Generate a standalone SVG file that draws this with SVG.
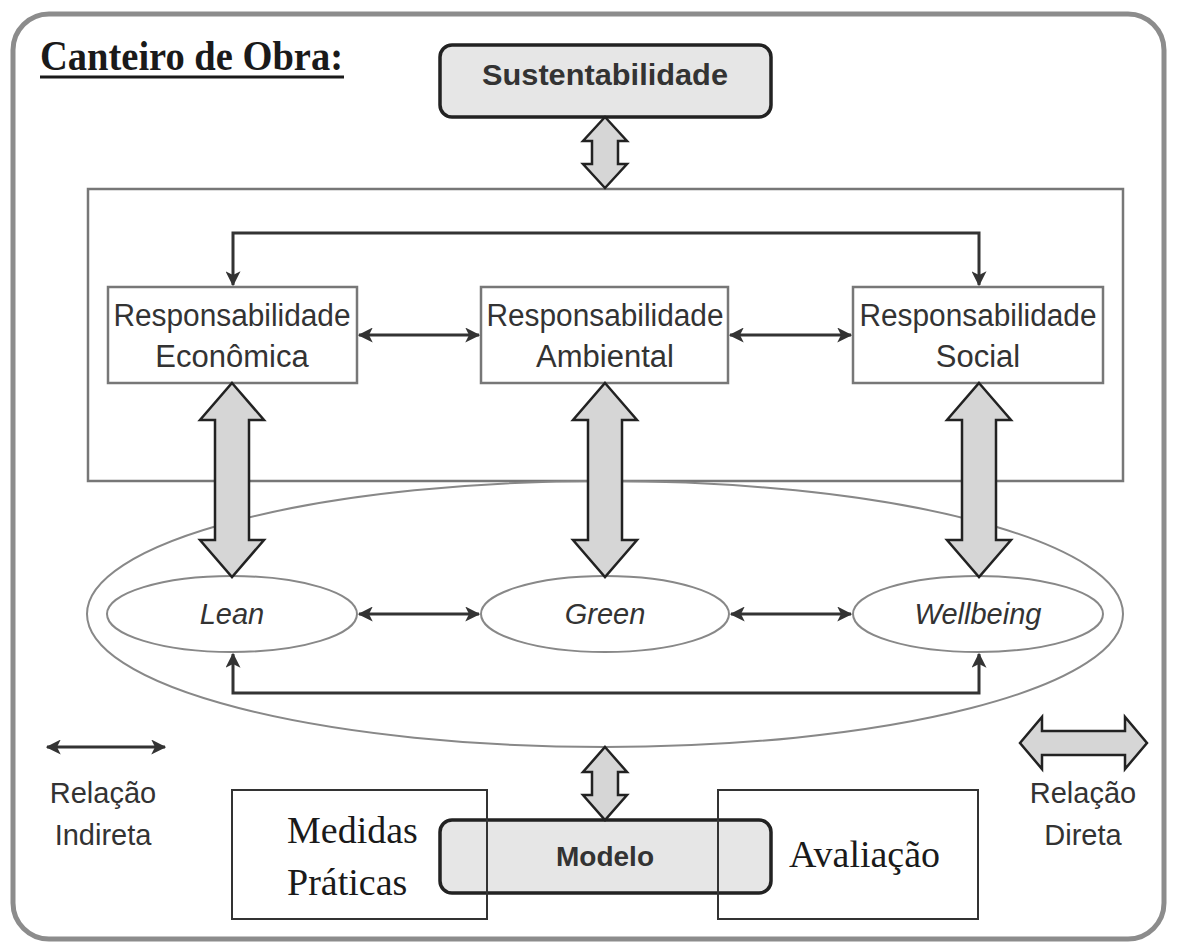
<svg xmlns="http://www.w3.org/2000/svg" width="1177" height="945" viewBox="0 0 1177 945">
<style>
  .sans { font-family: "Liberation Sans", Arial, sans-serif; fill: #333; }
  .serif { font-family: "Liberation Serif", "Times New Roman", serif; fill: #1a1a1a; }
  .box { fill: #fff; stroke: #777; stroke-width: 2.5; }
  .rbox { fill: #e6e6e6; stroke: #222; stroke-width: 3.5; }
  .block { fill: #d6d6d6; stroke: #222; stroke-width: 2.5; stroke-linejoin: miter; }
  .thin { fill: none; stroke: #333; stroke-width: 3; }
  .ell { fill: #fff; stroke: #888; stroke-width: 2; }
  .plain { fill: none; stroke: #333; stroke-width: 2; }
</style>
<defs>
  <marker id="ah" viewBox="0 0 12 12" refX="11" refY="6" markerWidth="5" markerHeight="5" orient="auto-start-reverse" markerUnits="strokeWidth">
    <path d="M0,0 L12,6 L0,12 L3,6 Z" fill="#333"/>
  </marker>
</defs>
<rect width="1177" height="945" fill="#fff"/>

<!-- outer frame -->
<rect id="frame" x="13" y="14" width="1151" height="925" rx="36" fill="none" stroke="#8c8c8c" stroke-width="5"/>

<g id="title">
  <text class="serif" x="40" y="70" font-size="42" font-weight="bold" textLength="303" lengthAdjust="spacingAndGlyphs">Canteiro de Obra:</text>
  <line x1="40" y1="77" x2="344" y2="77" stroke="#1a1a1a" stroke-width="3"/>
</g>

<g id="sustentabilidade">
  <rect class="rbox" x="440" y="45" width="331" height="72" rx="12"/>
  <text class="sans" x="605" y="85" font-size="30" font-weight="bold" text-anchor="middle" textLength="246" lengthAdjust="spacingAndGlyphs">Sustentabilidade</text>
</g>

<!-- inner rectangle and big ellipse -->
<rect id="responsabilidades" class="box" x="88" y="189" width="1035" height="292" fill="none"/>
<ellipse id="metodos" cx="605" cy="614" rx="518" ry="133" fill="none" stroke="#888" stroke-width="2"/>

<g id="resp-economica">
  <rect class="box" x="108" y="287" width="249" height="96"/>
  <text class="sans" x="232" y="326" font-size="31" text-anchor="middle" textLength="237" lengthAdjust="spacingAndGlyphs">Responsabilidade</text>
  <text class="sans" x="232" y="367" font-size="31" text-anchor="middle">Econômica</text>
</g>
<g id="resp-ambiental">
  <rect class="box" x="481" y="287" width="247" height="96"/>
  <text class="sans" x="605" y="326" font-size="31" text-anchor="middle" textLength="237" lengthAdjust="spacingAndGlyphs">Responsabilidade</text>
  <text class="sans" x="605" y="367" font-size="31" text-anchor="middle">Ambiental</text>
</g>
<g id="resp-social">
  <rect class="box" x="853" y="287" width="250" height="96"/>
  <text class="sans" x="978" y="326" font-size="31" text-anchor="middle" textLength="237" lengthAdjust="spacingAndGlyphs">Responsabilidade</text>
  <text class="sans" x="978" y="367" font-size="31" text-anchor="middle">Social</text>
</g>

<g id="lean">
  <ellipse class="ell" cx="232" cy="614" rx="125" ry="38"/>
  <text class="sans" x="232" y="624" font-size="29" font-style="italic" text-anchor="middle">Lean</text>
</g>
<g id="green">
  <ellipse class="ell" cx="605" cy="614" rx="124" ry="38"/>
  <text class="sans" x="605" y="624" font-size="29" font-style="italic" text-anchor="middle">Green</text>
</g>
<g id="wellbeing">
  <ellipse class="ell" cx="978" cy="614" rx="125" ry="38"/>
  <text class="sans" x="978" y="624" font-size="29" font-style="italic" text-anchor="middle">Wellbeing</text>
</g>

<g id="modelo">
  <rect class="rbox" x="440" y="820" width="331" height="73" rx="12"/>
  <text class="sans" x="605" y="866" font-size="28" font-weight="bold" text-anchor="middle">Modelo</text>
</g>
<g id="medidas">
  <rect class="plain" x="232" y="790" width="255" height="129"/>
  <text class="serif" x="287" y="843" font-size="38">Medidas</text>
  <text class="serif" x="287" y="895" font-size="38">Práticas</text>
</g>
<g id="avaliacao">
  <rect class="plain" x="718" y="790" width="260" height="129"/>
  <text class="serif" x="789" y="867" font-size="38" textLength="151" lengthAdjust="spacingAndGlyphs">Avaliação</text>
</g>

<g id="connectors">
  <!-- top loop -->
  <path class="thin" d="M233,285 L233,233 L979,233 L979,285" marker-start="url(#ah)" marker-end="url(#ah)"/>
  <line class="thin" x1="359" y1="335" x2="479" y2="335" marker-start="url(#ah)" marker-end="url(#ah)"/>
  <line class="thin" x1="730" y1="335" x2="851" y2="335" marker-start="url(#ah)" marker-end="url(#ah)"/>
  <!-- method arrows -->
  <line class="thin" x1="359" y1="614" x2="479" y2="614" marker-start="url(#ah)" marker-end="url(#ah)"/>
  <line class="thin" x1="731" y1="614" x2="851" y2="614" marker-start="url(#ah)" marker-end="url(#ah)"/>
  <path class="thin" d="M233,654 L233,693 L979,693 L979,654" marker-start="url(#ah)" marker-end="url(#ah)"/>
  <!-- block arrows -->
  <path class="block" d="M605,117 L627,141 L618,141 L618,164 L627,164 L605,188 L583,164 L592,164 L592,141 L583,141 Z"/>
  <path class="block" d="M232,383 L264,420 L249,420 L249,540 L264,540 L232,577 L200,540 L215,540 L215,420 L200,420 Z"/>
  <path class="block" d="M605,383 L637,420 L622,420 L622,540 L637,540 L605,577 L573,540 L588,540 L588,420 L573,420 Z"/>
  <path class="block" d="M979,383 L1011,420 L996,420 L996,540 L1011,540 L979,577 L947,540 L962,540 L962,420 L947,420 Z"/>
  <path class="block" d="M605,747 L627,772 L618,772 L618,795 L627,795 L605,820 L583,795 L592,795 L592,772 L583,772 Z"/>
</g>

<g id="legend-indireta">
  <line class="thin" x1="47" y1="747" x2="165" y2="747" stroke-width="2.5" marker-start="url(#ah)" marker-end="url(#ah)"/>
  <text class="sans" x="103" y="803" font-size="29" text-anchor="middle">Relação</text>
  <text class="sans" x="103" y="845" font-size="29" text-anchor="middle">Indireta</text>
</g>
<g id="legend-direta">
  <path class="block" d="M1020,743 L1042,717 L1042,731 L1125,731 L1125,717 L1147,743 L1125,769 L1125,755 L1042,755 L1042,769 Z"/>
  <text class="sans" x="1083" y="803" font-size="29" text-anchor="middle">Relação</text>
  <text class="sans" x="1083" y="845" font-size="29" text-anchor="middle">Direta</text>
</g>
</svg>
